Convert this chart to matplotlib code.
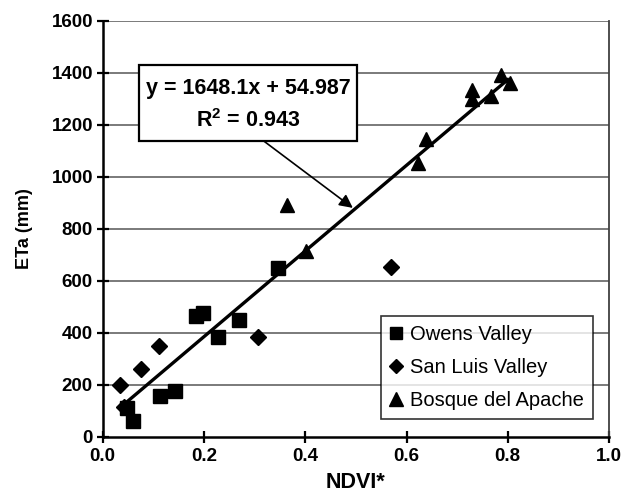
import matplotlib.pyplot as plt
import numpy as np

plt.rcParams['font.family'] = ['Liberation Sans', 'DejaVu Sans']
plt.rcParams['mathtext.fontset'] = 'custom'
plt.rcParams['mathtext.rm'] = 'Liberation Sans:bold'
plt.rcParams['mathtext.bf'] = 'Liberation Sans:bold'

# Owens Valley
owens_x = [0.048, 0.060, 0.113, 0.143, 0.184, 0.199, 0.228, 0.269, 0.347]
owens_y = [112, 59, 158, 176, 464, 477, 382, 449, 649]
# San Luis Valley
sanluis_x = [0.034, 0.043, 0.075, 0.111, 0.306, 0.569]
sanluis_y = [200, 115, 259, 348, 385, 653]
# Bosque del Apache
bosque_x = [0.364, 0.402, 0.623, 0.638, 0.730, 0.730, 0.767, 0.787, 0.805]
bosque_y = [892, 714, 1052, 1145, 1332, 1300, 1309, 1392, 1361]

slope = 1648.1
intercept = 54.987
fit_x = np.array([0.042, 0.800])

x_ticks = [0.0, 0.2, 0.4, 0.6, 0.8, 1.0]
y_ticks = [0, 200, 400, 600, 800, 1000, 1200, 1400, 1600]

fig = plt.figure(figsize=(6.26, 4.96), dpi=100)
ax = fig.add_axes([0.164, 0.1196, 0.809, 0.8386])

for yv in y_ticks[1:]:
    ax.axhline(yv, color='#7a7a7a', lw=1.4, zorder=1)

ax.plot(fit_x, slope * fit_x + intercept, color='black', lw=2.4, zorder=3)

ax.plot(owens_x, owens_y, 's', color='black', ms=9.5, ls='none', label='Owens Valley', zorder=4)
ax.plot(sanluis_x, sanluis_y, 'D', color='black', ms=8, ls='none', label='San Luis Valley', zorder=4)
ax.plot(bosque_x, bosque_y, '^', color='black', ms=10, ls='none', label='Bosque del Apache', zorder=4)

# equation box
ax.add_patch(plt.Rectangle((0.0723, 1138.5), 0.4307, 291.1, facecolor='white',
                           edgecolor='black', lw=1.6, zorder=5))
ax.text(0.2875, 1341, 'y = 1648.1x + 54.987', ha='center', va='center',
        fontsize=15.5, fontweight='bold', zorder=6)
ax.text(0.2875, 1216, r'R$^{\mathregular{2}}$ = 0.943', ha='center', va='center',
        fontsize=15.5, fontweight='bold', zorder=6)
ax.annotate('', xy=(0.494, 880), xytext=(0.319, 1136),
            arrowprops=dict(arrowstyle='-|>', color='black', lw=1.2,
                            mutation_scale=20, shrinkA=0, shrinkB=0), zorder=6)

ax.set_xlim(0, 1.0)
ax.set_ylim(0, 1600)
ax.set_xticks(x_ticks)
ax.set_yticks(y_ticks)
ax.set_xticklabels(['%.1f' % v for v in x_ticks])
ax.tick_params(axis='both', direction='inout', length=8, width=1.6, labelsize=13.5)
ax.tick_params(axis='x', pad=4)
ax.tick_params(axis='y', pad=3)
for lab in ax.get_xticklabels() + ax.get_yticklabels():
    lab.set_fontweight('bold')

ax.spines['left'].set_linewidth(1.8)
ax.spines['bottom'].set_linewidth(1.8)
ax.spines['top'].set_visible(False)
ax.spines['right'].set_color('#404040')
ax.spines['right'].set_linewidth(1.3)

ax.set_xlabel('NDVI*', fontsize=15.5, fontweight='bold', labelpad=5)
ax.set_ylabel('ETa (mm)', fontsize=13, fontweight='bold', labelpad=13)

leg = ax.legend(loc='upper left', bbox_to_anchor=(0.549, 0.291), fontsize=14.5,
                frameon=True, fancybox=False, handlelength=0.6, handletextpad=0.4,
                borderpad=0.45, labelspacing=0.7, borderaxespad=0, markerscale=0.95)
leg.get_frame().set_edgecolor('black')
leg.get_frame().set_linewidth(1.2)
leg.set_zorder(7)

fig.savefig('out.png', dpi=100)
